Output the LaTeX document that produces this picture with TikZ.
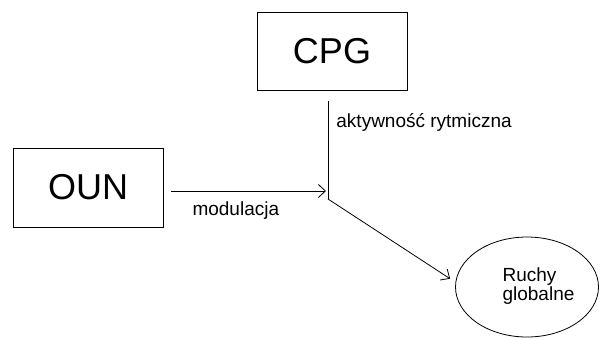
\documentclass[tikz,border=0pt]{standalone}
\usepackage{fontspec}
\setmainfont{Liberation Sans}
\usetikzlibrary{arrows.meta, positioning, shapes.geometric}

\tikzset{
    blok/.style={draw,minimum width=150,font=\fontsize{36}{40}\selectfont},
    opis/.style={font=\fontsize{19}{20}\selectfont},
    napis/.style={align=left,inner sep=0pt,font=\fontsize{19}{19}\selectfont}
}

\begin{document}
\begin{tikzpicture}[x=1pt,y=-1pt,line width=0.8pt,>={Straight Barb[length=7pt,width=13pt]}]
    \useasboundingbox (0,0) rectangle (601,338);
    %%% WEZLY %%%
    % bloki
    \node[blok,minimum height=78] (cpg) at (332,51) {CPG};
    \node[blok,minimum height=79] (oun) at (88,187.5) {OUN};
    % elipsa
    \node[draw,ellipse,minimum width=143,minimum height=100] (ruchy) at (527,287) {};
    \node[napis] (ruchytxt) at (538.5,286) {Ruchy\\globalne};

    % punkty pomocnicze
    \coordinate (cpgout) at (328,101);
    \coordinate (junction) at (328,199);

    %%% POLACZENIA %%%
    \draw (cpgout) -- node[opis,anchor=base west,pos=0.275,inner xsep=8pt] {aktywność rytmiczna} (junction);
    \draw[->,shorten <=8pt,shorten >=2pt] (oun.east |- 0,191) -- node[opis,anchor=base,pos=0.44,yshift=-24pt] {modulacja} (junction |- 0,191);
    \draw[->,shorten >=6pt] (junction) -- (ruchy.west |- 0,282);
\end{tikzpicture}
\end{document}
